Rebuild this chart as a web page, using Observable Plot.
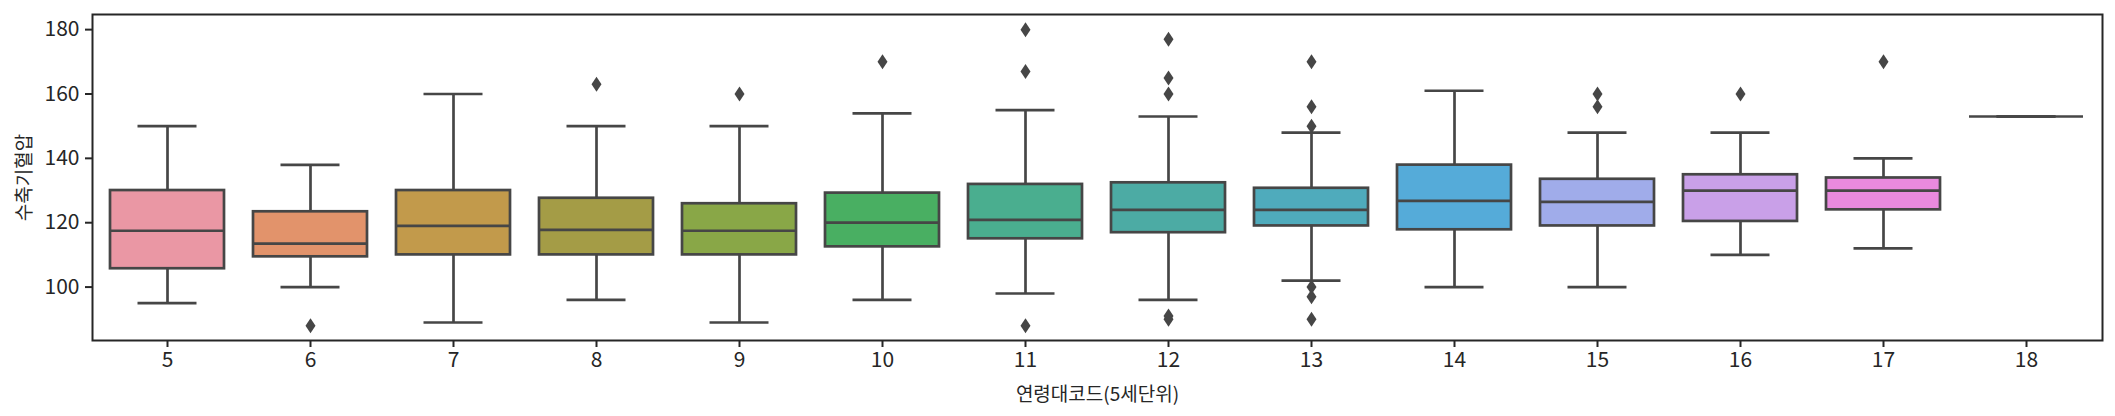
<!DOCTYPE html>
<html><head><meta charset="utf-8">
<script src="https://cdn.jsdelivr.net/npm/d3@7"></script>
<script src="https://cdn.jsdelivr.net/npm/@observablehq/plot@0.6"></script>
<style>body{margin:0;background:#fff}</style>
</head><body><div id="chart"></div>
<script>
// 연령대코드(5세단위) categories
const categories = [5, 6, 7, 8, 9, 10, 11, 12, 13, 14, 15, 16, 17, 18];
// box statistics (수축기혈압)
const whiskerLow  = [95, 100, 89, 96, 89, 96, 98, 96, 102, 100, 100, 110, 112, 153];
const q1          = [105.7, 109.4, 110, 110, 110, 112.5, 115, 116.9, 119, 117.8, 119, 120.4, 124, 153];
const median      = [117.5, 113.5, 119, 117.8, 117.5, 120, 120.9, 124, 124, 126.8, 126.5, 130, 130, 153];
const q3          = [130, 123.4, 130, 127.6, 125.9, 129.2, 131.9, 132.4, 130.7, 137.9, 133.5, 134.9, 133.9, 153];
const whiskerHigh = [150, 138, 160, 150, 150, 154, 155, 153, 148, 161, 148, 148, 140, 153];
// outliers
const outlierCats   = [6, 8, 9, 10, 11, 11, 11, 12, 12, 12, 12, 12, 13, 13, 13, 13, 13, 13, 15, 15, 16, 17];
const outlierValues = [88, 163, 160, 170, 180, 167, 88, 177, 165, 160, 91, 90, 170, 156, 150, 100, 97, 90, 160, 156, 160, 170];
// palette
const colors = ["#ea97a4", "#e2936b", "#c29a4b", "#a49c46", "#89a747", "#49af62", "#4aae8f",
                "#4caba4", "#4fabbc", "#55abd9", "#a0acea", "#c9a0e8", "#e98ade", "#ea8ebb"];
const yTicks = [100, 120, 140, 160, 180];

const boxes = categories.map((c, i) => ({cat: c, lo: whiskerLow[i], q1: q1[i], median: median[i], q3: q3[i], hi: whiskerHigh[i]}));
const fliers = outlierCats.map((c, i) => ({cat: c, value: outlierValues[i]}));

const thinDiamond = {
  draw(context, size) {
    const r = Math.sqrt(size / Math.PI);
    context.moveTo(0, -1.5 * r);
    context.lineTo(r, 0);
    context.lineTo(0, 1.5 * r);
    context.lineTo(-r, 0);
    context.closePath();
  }
};

const line = "#464646";
const ink = "#262626";
const lw = 2.7;

const chart = Plot.plot({
  width: 2115, height: 416,
  marginLeft: 92, marginRight: 13, marginTop: 14, marginBottom: 76,
  style: {fontFamily: "'Noto Sans CJK KR', 'Noto Sans', sans-serif", fontSize: "21px", color: ink, background: "#fff"},
  x: {type: "band", domain: categories, paddingInner: 0.2, paddingOuter: 0.1},
  y: {domain: [83.4, 184.7]},
  color: {type: "ordinal", domain: categories, range: colors},
  marks: [
    Plot.ruleX(boxes, {x: "cat", y1: "lo", y2: "q1", stroke: line, strokeWidth: lw}),
    Plot.ruleX(boxes, {x: "cat", y1: "q3", y2: "hi", stroke: line, strokeWidth: lw}),
    Plot.tickY(boxes, {x: "cat", y: "lo", insetLeft: 27.5, insetRight: 27.5, stroke: line, strokeWidth: lw}),
    Plot.tickY(boxes, {x: "cat", y: "hi", insetLeft: 27.5, insetRight: 27.5, stroke: line, strokeWidth: lw}),
    Plot.barY(boxes, {x: "cat", y1: "q1", y2: "q3", fill: "cat", stroke: line, strokeWidth: lw}),
    Plot.tickY(boxes, {x: "cat", y: "median", stroke: line, strokeWidth: lw}),
    Plot.dot(fliers, {x: "cat", y: "value", symbol: thinDiamond, r: 5, fill: line, stroke: null}),
    Plot.axisX({tickSize: 7, tickPadding: 5, strokeWidth: 2, stroke: ink, label: null, fontSize: 21}),
    Plot.axisX({ticks: [], tickSize: 0, label: "연령대코드(5세단위)", labelAnchor: "center", labelOffset: 60, labelArrow: "none", fontSize: 19}),
    Plot.axisY({ticks: yTicks, tickSize: 7, tickPadding: 6, strokeWidth: 2, stroke: ink, label: null, fontSize: 21}),
    Plot.axisY({ticks: [], tickSize: 0, label: "수축기혈압", labelAnchor: "center", labelOffset: 75, labelArrow: "none", fontSize: 19}),
    Plot.frame({stroke: ink, strokeWidth: 2})
  ]
});
document.getElementById("chart").appendChild(chart);
</script>
</body></html>
